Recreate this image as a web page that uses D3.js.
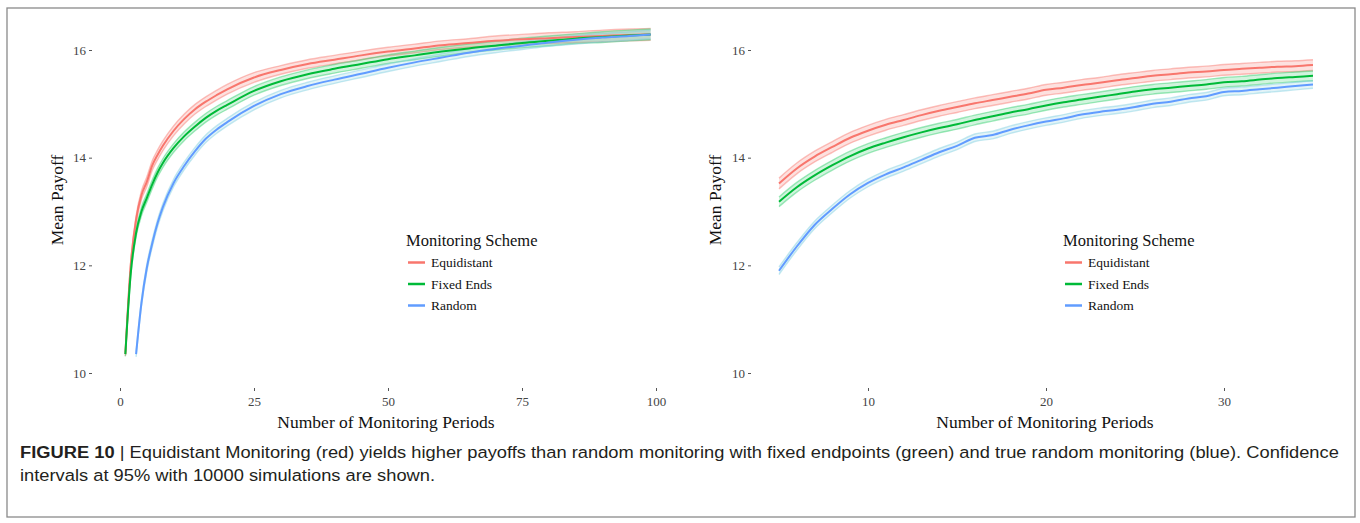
<!DOCTYPE html>
<html>
<head>
<meta charset="utf-8">
<title>Figure 10</title>
<script src="https://d3js.org/d3.v7.min.js"></script>
<style>
  body { margin: 0; background: #fff; }
  svg { display: block; }
</style>
</head>
<body>
<svg id="canvas"></svg>
<script>
// ---- data ----
// left panel: 1..99 monitoring periods
var leftX = [1, 2, 3, 4, 5, 6, 7, 8, 10, 12, 14, 16, 18, 20, 25, 30, 35, 40, 45, 50, 55, 60, 65, 70, 75, 80, 85, 90, 95, 99];
var leftEquidistant = [10.35, 12.0, 12.85, 13.3, 13.55, 13.85, 14.05, 14.22, 14.5, 14.72, 14.9, 15.04, 15.16, 15.27, 15.49, 15.63, 15.74, 15.82, 15.9, 15.97, 16.03, 16.09, 16.13, 16.17, 16.2, 16.22, 16.24, 16.26, 16.28, 16.29];
var leftEquidistantCI = [0.04, 0.06, 0.07, 0.08, 0.09, 0.09, 0.09, 0.09, 0.09, 0.09, 0.09, 0.09, 0.09, 0.09, 0.09, 0.08, 0.08, 0.08, 0.08, 0.08, 0.08, 0.08, 0.08, 0.09, 0.09, 0.1, 0.1, 0.11, 0.11, 0.11];
var leftFixedEnds = [10.35, 11.85, 12.6, 13.0, 13.25, 13.5, 13.72, 13.9, 14.18, 14.4, 14.58, 14.74, 14.87, 14.98, 15.24, 15.42, 15.55, 15.65, 15.74, 15.83, 15.9, 15.97, 16.03, 16.08, 16.13, 16.17, 16.21, 16.24, 16.27, 16.29];
var leftFixedEndsCI = [0.04, 0.06, 0.07, 0.08, 0.08, 0.08, 0.08, 0.08, 0.08, 0.08, 0.08, 0.08, 0.08, 0.08, 0.08, 0.08, 0.08, 0.08, 0.08, 0.08, 0.08, 0.08, 0.08, 0.08, 0.09, 0.09, 0.09, 0.1, 0.1, 0.1];
var leftRandomX = [3, 4, 5, 6, 7, 8, 10, 12, 14, 16, 18, 20, 25, 30, 35, 40, 45, 50, 55, 60, 65, 70, 75, 80, 85, 90, 95, 99];
var leftRandom = [10.35, 11.3, 11.95, 12.4, 12.78, 13.08, 13.53, 13.85, 14.12, 14.35, 14.52, 14.66, 14.96, 15.18, 15.33, 15.45, 15.56, 15.67, 15.77, 15.86, 15.95, 16.02, 16.08, 16.14, 16.19, 16.23, 16.26, 16.29];
var leftRandomCI = [0.05, 0.06, 0.07, 0.07, 0.07, 0.07, 0.07, 0.07, 0.07, 0.07, 0.07, 0.07, 0.07, 0.07, 0.07, 0.07, 0.07, 0.07, 0.07, 0.07, 0.07, 0.07, 0.07, 0.07, 0.08, 0.08, 0.08, 0.08];

// right panel: 5..35 monitoring periods
var rightX = [5, 6, 7, 8, 9, 10, 11, 12, 13, 14, 15, 16, 17, 18, 19, 20, 21, 22, 23, 24, 25, 26, 27, 28, 29, 30, 31, 32, 33, 34, 35];
var rightEquidistant = [13.52, 13.8, 14.02, 14.2, 14.37, 14.5, 14.61, 14.7, 14.79, 14.87, 14.94, 15.01, 15.07, 15.13, 15.19, 15.26, 15.3, 15.35, 15.39, 15.44, 15.48, 15.52, 15.55, 15.58, 15.6, 15.63, 15.65, 15.67, 15.69, 15.7, 15.72];
var rightFixedEnds = [13.18, 13.45, 13.67, 13.86, 14.03, 14.17, 14.28, 14.38, 14.47, 14.55, 14.62, 14.7, 14.77, 14.84, 14.9, 14.97, 15.03, 15.08, 15.13, 15.18, 15.23, 15.27, 15.3, 15.33, 15.36, 15.4, 15.42, 15.45, 15.48, 15.5, 15.52];
var rightRandom = [11.9, 12.35, 12.75, 13.05, 13.32, 13.53, 13.69, 13.82, 13.96, 14.1, 14.22, 14.37, 14.42, 14.52, 14.6, 14.67, 14.73, 14.8, 14.85, 14.89, 14.94, 15.0, 15.04, 15.1, 15.14, 15.22, 15.24, 15.27, 15.3, 15.33, 15.36];
var rightEquidistantCI = [0.1, 0.1, 0.1, 0.1, 0.1, 0.1, 0.1, 0.1, 0.1, 0.1, 0.1, 0.1, 0.1, 0.1, 0.1, 0.1, 0.1, 0.1, 0.1, 0.1, 0.1, 0.1, 0.1, 0.1, 0.1, 0.1, 0.1, 0.1, 0.1, 0.1, 0.1];
var rightFixedEndsCI = [0.09, 0.09, 0.09, 0.09, 0.09, 0.09, 0.09, 0.09, 0.09, 0.09, 0.09, 0.09, 0.09, 0.09, 0.09, 0.09, 0.09, 0.09, 0.09, 0.09, 0.09, 0.09, 0.09, 0.09, 0.09, 0.09, 0.09, 0.09, 0.09, 0.09, 0.09];
var rightRandomCI = [0.07, 0.07, 0.07, 0.07, 0.07, 0.07, 0.07, 0.07, 0.07, 0.07, 0.07, 0.07, 0.07, 0.07, 0.07, 0.07, 0.07, 0.07, 0.07, 0.07, 0.07, 0.07, 0.07, 0.07, 0.07, 0.07, 0.07, 0.07, 0.07, 0.07, 0.07];

var schemes = ["Equidistant", "Fixed Ends", "Random"];
var leftXTicks = [0, 25, 50, 75, 100];
var rightXTicks = [10, 20, 30];
var yTicks = [10, 12, 14, 16];
var xTitle = "Number of Monitoring Periods";
var yTitle = "Mean Payoff";
var legendTitle = "Monitoring Scheme";
var captionBold = "FIGURE 10";
var captionLine1 = "Equidistant Monitoring (red) yields higher payoffs than random monitoring with fixed endpoints (green) and true random monitoring (blue). Confidence";
var captionLine2 = "intervals at 95% with 10000 simulations are shown.";

// ---- styling ----
var lineColor = {"Equidistant": "#F8766D", "Fixed Ends": "#00BA38", "Random": "#619CFF"};
var bandColor = {"Equidistant": "#F8766D", "Fixed Ends": "#2fcf6a", "Random": "#7fcfe0"};
var serif = "'Liberation Serif', 'Times New Roman', serif";

var width = 1360, height = 523;
var svg = d3.select("#canvas").attr("width", width).attr("height", height);

svg.append("rect").attr("width", width).attr("height", height).attr("fill", "#fff");
svg.append("rect")
    .attr("x", 7).attr("y", 8).attr("width", 1348).attr("height", 509)
    .attr("fill", "none").attr("stroke", "#8a8a8a").attr("stroke-width", 1.3);

function mkSeries(xs, ys, cis) {
    return xs.map(function (x, i) { return {x: x, y: ys[i], ci: cis[i]}; });
}

var panels = [
    {
        xDomain: [-5, 105], xRange: [93.2, 682.8], xTicks: leftXTicks, yAxisX: 92,
        yTitleX: 57, xTitleX: 386, legendX: 406,
        series: {
            "Equidistant": mkSeries(leftX, leftEquidistant, leftEquidistantCI),
            "Fixed Ends": mkSeries(leftX, leftFixedEnds, leftFixedEndsCI),
            "Random": mkSeries(leftRandomX, leftRandom, leftRandomCI)
        }
    },
    {
        xDomain: [3.5, 36.5], xRange: [752.3, 1339.7], xTicks: rightXTicks, yAxisX: 751,
        yTitleX: 715, xTitleX: 1045, legendX: 1063,
        series: {
            "Equidistant": mkSeries(rightX, rightEquidistant, rightEquidistantCI),
            "Fixed Ends": mkSeries(rightX, rightFixedEnds, rightFixedEndsCI),
            "Random": mkSeries(rightX, rightRandom, rightRandomCI)
        }
    }
];

panels.forEach(function (p) {
    var x = d3.scaleLinear().domain(p.xDomain).range(p.xRange);
    var y = d3.scaleLinear().domain([10, 16]).range([373, 50]);
    var g = svg.append("g");

    // ribbons, edges, then centre lines
    schemes.forEach(function (s) {
        var d = p.series[s];
        var area = d3.area().curve(d3.curveMonotoneX)
            .x(function (v) { return x(v.x); })
            .y0(function (v) { return y(v.y - v.ci); })
            .y1(function (v) { return y(v.y + v.ci); });
        g.append("path").datum(d).attr("d", area)
            .attr("fill", bandColor[s]).attr("fill-opacity", 0.22);
        [-1, 1].forEach(function (sign) {
            var edge = d3.line().curve(d3.curveMonotoneX)
                .x(function (v) { return x(v.x); })
                .y(function (v) { return y(v.y + sign * v.ci); });
            g.append("path").datum(d).attr("d", edge)
                .attr("fill", "none").attr("stroke", bandColor[s])
                .attr("stroke-opacity", 0.45).attr("stroke-width", 1.4);
        });
    });
    schemes.forEach(function (s) {
        var line = d3.line().curve(d3.curveMonotoneX)
            .x(function (v) { return x(v.x); })
            .y(function (v) { return y(v.y); });
        g.append("path").datum(p.series[s]).attr("d", line)
            .attr("fill", "none").attr("stroke", lineColor[s]).attr("stroke-width", 2);
    });

    // axes
    var ax = g.append("g").attr("transform", "translate(0,388)")
        .call(d3.axisBottom(x).tickValues(p.xTicks).tickSize(3).tickPadding(6).tickFormat(d3.format("d")));
    var ay = g.append("g").attr("transform", "translate(" + p.yAxisX + ",0)")
        .call(d3.axisLeft(y).tickValues(yTicks).tickSize(3).tickPadding(3).tickFormat(d3.format("d")));
    [ax, ay].forEach(function (a) {
        a.select(".domain").remove();
        a.selectAll(".tick line").attr("stroke", "#555");
        a.selectAll(".tick text").attr("fill", "#444").style("font-family", serif).style("font-size", "13px");
    });

    g.append("text").attr("x", p.xTitleX).attr("y", 428).attr("text-anchor", "middle")
        .style("font-family", serif).style("font-size", "17.5px").attr("fill", "#111").text(xTitle);
    g.append("text").attr("transform", "translate(" + (p.yTitleX + 6) + ",200) rotate(-90)")
        .attr("text-anchor", "middle").style("font-family", serif).style("font-size", "17.5px")
        .attr("fill", "#111").text(yTitle);

    // legend
    var lg = g.append("g").attr("transform", "translate(" + p.legendX + ",0)");
    lg.append("text").attr("x", 0).attr("y", 246).style("font-family", serif).style("font-size", "16.5px")
        .attr("fill", "#111").text(legendTitle);
    schemes.forEach(function (s, i) {
        var yy = 262.5 + i * 21.5;
        lg.append("line").attr("x1", 2).attr("x2", 19).attr("y1", yy).attr("y2", yy)
            .attr("stroke", lineColor[s]).attr("stroke-width", 2.5);
        lg.append("text").attr("x", 25).attr("y", yy + 4.5).style("font-family", serif)
            .style("font-size", "13.5px").attr("fill", "#111").text(s);
    });
});

// caption: slightly condensed sans, first line fitted to the figure width
var capFont = "'Liberation Sans Narrow', 'Arial Narrow', 'Liberation Sans', Arial, sans-serif";
var cap = svg.append("g").style("font-family", capFont).attr("fill", "#231f20").style("font-size", "17px");
var t1 = cap.append("text").attr("x", 0).attr("y", 0);
t1.append("tspan").style("font-weight", "bold").text(captionBold);
t1.append("tspan").text(" | " + captionLine1);
var t2 = cap.append("text").attr("x", 0).attr("y", 0).text(captionLine2);
var sx = 1320 / t1.node().getComputedTextLength();
t1.attr("transform", "translate(20,458) scale(" + sx + ",1)");
t2.attr("transform", "translate(20,481) scale(" + sx + ",1)");
</script>
</body>
</html>
